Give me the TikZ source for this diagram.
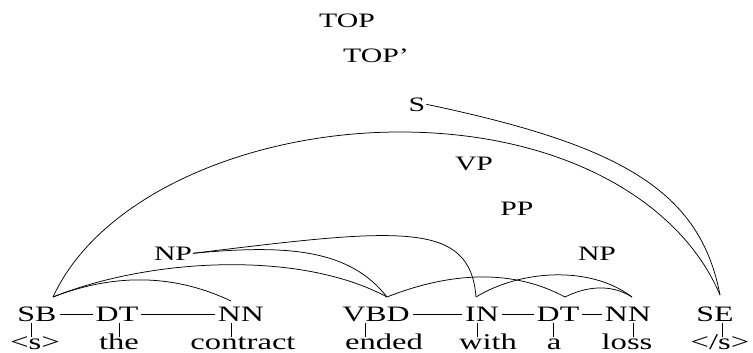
\documentclass[tikz,border=0pt]{standalone}
\usepackage{fontspec}
\setmainfont{Liberation Serif}[FakeStretch=1.45]
\begin{document}
\begin{tikzpicture}[x=1pt,y=-1pt,
  lab/.style={font=\fontsize{20.5}{24}\selectfont, inner sep=1pt, anchor=base},
  tag/.style={font=\fontsize{22}{26}\selectfont, inner xsep=3pt, inner ysep=1pt, anchor=base},
  word/.style={font=\fontsize{22.5}{26}\selectfont, inner sep=1pt, anchor=base},
  arc/.style={draw=black, line width=0.75pt},
  tie/.style={draw=black, line width=0.75pt}]
\useasboundingbox (0,0) rectangle (753,353);
% nonterminal labels
\node[lab] (top)  at (347,28)  {TOP};
\node[lab] (topp) at (376,63)  {TOP'};
\node[lab] (s)    at (417,111) {S};
\node[lab] (vp)   at (474,170) {VP};
\node[lab] (pp)   at (517,215) {PP};
\node[lab] (npl)  at (173,260) {NP};
\node[lab] (npr)  at (597,260) {NP};
% tags
\node[tag] (sb)  at (37,321)  {SB};
\node[tag] (dta) at (117,321) {DT};
\node[tag] (nna) at (241,321) {NN};
\node[tag] (vbd) at (376,321) {VBD};
\node[tag] (in)  at (482,321) {IN};
\node[tag] (dtb) at (558,321) {DT};
\node[tag] (nnb) at (628,321) {NN};
\node[tag] (se)  at (715,321) {SE};
% words
\node[word] (w1) at (35,349)  {<s>};
\node[word] (w2) at (119,349) {the};
\node[word] (w3) at (243,349) {contract};
\node[word] (w4) at (384,349) {ended};
\node[word] (w5) at (488,349) {with};
\node[word] (w6) at (554,349) {a};
\node[word] (w7) at (627,349) {loss};
\node[word] (w8) at (720,349) {</s>};
% ties between tags
\draw[tie] ([yshift=7pt]sb.base east)  -- ([yshift=7pt]dta.base west);
\draw[tie] ([yshift=7pt]dta.base east) -- ([yshift=7pt]nna.base west);
\draw[tie] ([yshift=7pt]vbd.base east) -- ([yshift=7pt]in.base west);
\draw[tie] ([yshift=7pt]in.base east)  -- ([yshift=7pt]dtb.base west);
\draw[tie] ([yshift=7pt]dtb.base east) -- ([yshift=7pt]nnb.base west);
% stems tag -> word
\draw[tie] ([xshift=-6pt,yshift=-2pt]sb.base)  -- ([xshift=-6pt,yshift=-16pt]sb.base);
\draw[tie] ([xshift=2pt,yshift=-2pt]dta.base)  -- ([xshift=2pt,yshift=-16pt]dta.base);
\draw[tie] ([xshift=-10pt,yshift=-2pt]nna.base) -- ([xshift=-10pt,yshift=-16pt]nna.base);
\draw[tie] ([xshift=-11pt,yshift=-2pt]vbd.base) -- ([xshift=-11pt,yshift=-16pt]vbd.base);
\draw[tie] ([xshift=-5pt,yshift=-2pt]in.base)  -- ([xshift=-5pt,yshift=-16pt]in.base);
\draw[tie] ([xshift=-5pt,yshift=-2pt]dtb.base) -- ([xshift=-5pt,yshift=-16pt]dtb.base);
\draw[tie] ([xshift=5pt,yshift=-2pt]nnb.base)  -- ([xshift=5pt,yshift=-16pt]nnb.base);
\draw[tie] ([xshift=7pt,yshift=-2pt]se.base)   -- ([xshift=7pt,yshift=-16pt]se.base);
% arc end points on tags
\coordinate (sbT)  at (53,297);
\coordinate (nnaT) at (231,301);
\coordinate (vbdT) at (387,297);
\coordinate (inT)  at (476,297);
\coordinate (dtbT) at (565,297);
\coordinate (nnbT) at (632,297);
\coordinate (seT)  at (720,295);
% arcs
\draw[arc] (s.east) .. controls (620,145) and (700,190) .. (seT);
\draw[arc] (sbT) .. controls (100,195) and (250,132) .. (400,132)
                 .. controls (560,132) and (680,200) .. (seT);
\draw[arc] (npl.east) .. controls (400,228) and (470,220) .. (inT);
\draw[arc] (npl.east) .. controls (290,244) and (350,250) .. (vbdT);
\draw[arc] (sbT) .. controls (150,258) and (300,250) .. (vbdT);
\draw[arc] (sbT) .. controls (110,275) and (170,272) .. (nnaT);
\draw[arc] (vbdT) .. controls (430,280) and (500,262) .. (dtbT);
\draw[arc] (inT) .. controls (520,270) and (590,265) .. (nnbT);
\draw[arc] (dtbT) .. controls (585,287) and (610,283) .. (nnbT);
\end{tikzpicture}
\end{document}
